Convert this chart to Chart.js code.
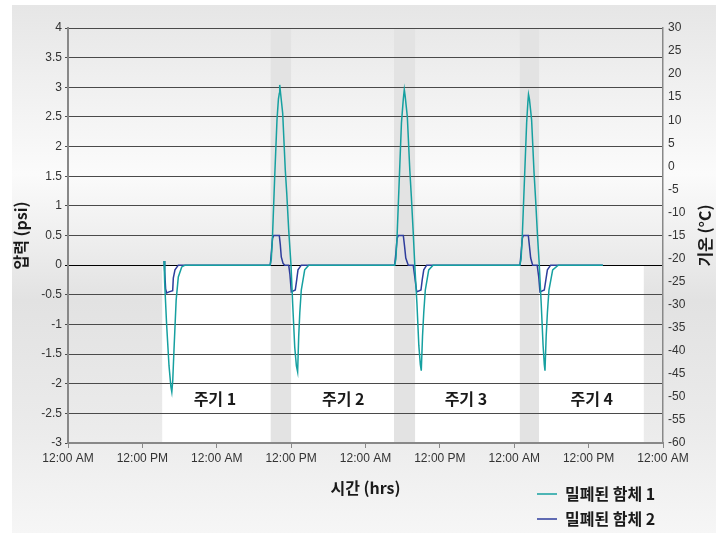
<!DOCTYPE html>
<html>
<head>
<meta charset="utf-8">
<script src="https://cdn.jsdelivr.net/npm/chart.js@4"></script>
<style>
  html, body { margin: 0; padding: 0; background: #fff; }
  #wrap { width: 728px; height: 537px; position: relative; }
</style>
</head>
<body>
<div id="wrap"><canvas id="pressureChart" width="728" height="537"></canvas></div>
<script>
// x tick labels (every 12 hours over 4 days)
const timeLabels = ["12:00 AM", "12:00 PM", "12:00 AM", "12:00 PM", "12:00 AM",
  "12:00 PM", "12:00 AM", "12:00 PM", "12:00 AM"];

// sealed enclosure 1 (hours, psi)
const hours1 = [15.5, 15.6, 15.9, 16.3, 16.6, 16.75, 16.9, 17.1, 17.3, 17.45, 17.8, 18.35, 18.9,
  32.6, 32.8, 33.0, 33.35, 33.72, 33.95, 34.1, 34.16, 34.3, 34.64, 35.06, 35.3, 35.61, 35.98,
  36.25, 36.58, 36.85, 37.05, 37.22, 37.4, 37.64, 38.19, 38.84,
  52.7, 52.9, 53.1, 53.45, 53.8, 54.1, 54.26, 54.4, 54.75, 55.15, 55.4, 55.7, 55.95,
  56.3, 56.6, 56.85, 57.0, 57.2, 57.4, 57.65, 58.2, 58.9,
  72.9, 73.1, 73.3, 73.65, 74.0, 74.2, 74.3, 74.45, 74.8, 75.2, 75.45, 75.75, 76.04,
  76.35, 76.65, 76.85, 76.96, 77.15, 77.35, 77.6, 78.2, 79.1, 86.3];
const psi1 = [0.07, -0.3, -0.98, -1.7, -2.05, -2.14, -1.95, -1.43, -0.95, -0.59, -0.2, -0.03, 0,
  0, 0.1, 0.5, 1.49, 2.45, 2.8, 2.9, 3.04, 2.9, 2.56, 1.6, 1.2, 0.59, 0,
  -0.65, -1.38, -1.7, -1.8, -1.21, -0.8, -0.42, -0.08, 0,
  0, 0.1, 0.5, 1.45, 2.4, 2.8, 2.96, 2.85, 2.5, 1.6, 1.15, 0.55, 0,
  -0.65, -1.35, -1.68, -1.78, -1.2, -0.8, -0.42, -0.08, 0,
  0, 0.1, 0.5, 1.45, 2.4, 2.75, 2.88, 2.8, 2.45, 1.55, 1.1, 0.5, 0,
  -0.65, -1.35, -1.68, -1.78, -1.2, -0.8, -0.42, -0.08, 0, 0];

// sealed enclosure 2 (hours, psi)
const hours2 = [15.5, 15.6, 15.75, 15.92, 16.3, 16.89, 16.99, 17.26, 17.8,
  32.64, 32.8, 33.0, 33.19, 34.09, 34.25, 34.41, 34.7, 34.96, 35.61, 35.8, 36.03, 36.67, 36.9, 37.11, 37.64,
  52.7, 52.9, 53.1, 53.29, 54.1, 54.3, 54.5, 54.9, 55.7, 55.95, 56.26, 56.95, 57.15, 57.4, 57.87,
  72.93, 73.1, 73.3, 73.46, 74.27, 74.45, 74.65, 74.97, 75.7, 75.95, 76.15, 76.85, 77.1, 77.35, 77.88, 86.3];
const psi2 = [0.07, -0.1, -0.4, -0.47, -0.45, -0.43, -0.22, -0.08, 0,
  0, 0.2, 0.45, 0.5, 0.5, 0.35, 0.14, 0.03, 0, 0, -0.15, -0.45, -0.42, -0.25, -0.08, 0,
  0, 0.2, 0.45, 0.5, 0.5, 0.32, 0.12, 0, 0, -0.2, -0.45, -0.42, -0.25, -0.08, 0,
  0, 0.2, 0.45, 0.5, 0.5, 0.32, 0.12, 0, 0, -0.2, -0.45, -0.42, -0.25, -0.08, 0, 0];

const seriesNames = ["밀폐된 함체 1", "밀폐된 함체 2"];
const seriesColors = ["#16a0a0", "#2e3d9c"];

// shaded transition bands and cycle areas (hours)
const bandStart = [32.7, 52.6, 72.9];
const bandEnd = [36.0, 56.0, 76.0];
const cycleStart = 15.2;
const cycleEnd = 92.9;
const cycleNames = ["주기 1", "주기 2", "주기 3", "주기 4"];
const cycleLabelHours = [23.7, 44.4, 64.2, 84.5];
const cycleLabelPsi = -2.26;

const KR = "'Noto Sans CJK KR', 'Noto Sans', sans-serif";
const TICK = "'Liberation Sans', Arial, sans-serif";

const decorPlugin = {
  id: "decor",
  beforeDraw(chart) {
    const ctx = chart.ctx;
    const { left, right, top, bottom } = chart.chartArea;
    const x = chart.scales.x, y = chart.scales.y;
    ctx.save();
    // panel background
    const g = ctx.createLinearGradient(0, 5, 0, 533);
    g.addColorStop(0, "#e6e6e6");
    g.addColorStop(0.32, "#fbfbfb");
    g.addColorStop(0.56, "#e2e2e2");
    g.addColorStop(0.8, "#ebebeb");
    g.addColorStop(1, "#f6f6f6");
    ctx.fillStyle = g;
    ctx.fillRect(12, 5, 704, 528);
    // white cycle area below zero
    const y0 = y.getPixelForValue(0);
    ctx.fillStyle = "#ffffff";
    ctx.fillRect(x.getPixelForValue(cycleStart), y0, x.getPixelForValue(cycleEnd) - x.getPixelForValue(cycleStart), bottom - y0);
    // grey bands
    ctx.fillStyle = "#e3e3e3";
    bandStart.forEach((s, i) => {
      const a = x.getPixelForValue(s), b = x.getPixelForValue(bandEnd[i]);
      ctx.fillRect(a, top, b - a, bottom - top);
    });
    ctx.restore();
  },
  afterDraw(chart) {
    const ctx = chart.ctx;
    const { top, bottom } = chart.chartArea;
    const x = chart.scales.x, y = chart.scales.y;
    ctx.save();
    // cycle labels
    ctx.fillStyle = "#1a1a1a";
    ctx.font = "bold 16px " + KR;
    ctx.textAlign = "center";
    ctx.textBaseline = "middle";
    cycleNames.forEach((n, i) => {
      ctx.fillText(n, x.getPixelForValue(cycleLabelHours[i]), y.getPixelForValue(cycleLabelPsi));
    });
    // right axis title, reading bottom to top
    ctx.save();
    ctx.translate(705, (top + bottom) / 2);
    ctx.rotate(-Math.PI / 2);
    ctx.fillText("기온 (°C)", 0, 0);
    ctx.restore();
    // legend
    ctx.textAlign = "left";
    ctx.font = "bold 16px " + KR;
    seriesNames.forEach((n, i) => {
      const ly = 494 + i * 25;
      ctx.strokeStyle = seriesColors[i];
      ctx.lineWidth = 1.5;
      ctx.beginPath();
      ctx.moveTo(537, ly);
      ctx.lineTo(557, ly);
      ctx.stroke();
      ctx.fillStyle = "#1a1a1a";
      ctx.fillText(n, 565, ly);
    });
    ctx.restore();
  }
};

new Chart(document.getElementById("pressureChart"), {
  type: "line",
  data: {
    datasets: [
      {
        label: seriesNames[0],
        data: hours1.map((h, i) => ({ x: h, y: psi1[i] })),
        borderColor: seriesColors[0],
        borderWidth: 1.5,
        pointRadius: 0,
        tension: 0,
        yAxisID: "y",
      },
      {
        label: seriesNames[1],
        data: hours2.map((h, i) => ({ x: h, y: psi2[i] })),
        borderColor: seriesColors[1],
        borderWidth: 1.5,
        pointRadius: 0,
        tension: 0,
        yAxisID: "y",
      },
    ],
  },
  options: {
    responsive: false,
    animation: false,
    layout: { padding: { top: 28, bottom: 0, left: 0, right: 0 } },
    plugins: { legend: { display: false }, tooltip: { enabled: false } },
    scales: {
      x: {
        type: "linear",
        min: 0,
        max: 96,
        afterBuildTicks(scale) {
          scale.ticks = timeLabels.map((t, i) => ({ value: i * 12 }));
        },
        afterFit(scale) { scale.height = 94; },
        grid: { drawOnChartArea: false, color: "#888", tickLength: 5 },
        border: { color: "#888", width: 2 },
        ticks: {
          font: { family: TICK, size: 12 },
          color: "#333",
          padding: 3,
          maxRotation: 0,
          autoSkip: false,
          callback: (v, i) => timeLabels[i],
        },
        title: {
          display: true,
          text: "시간 (hrs)",
          font: { family: KR, size: 16, weight: "bold" },
          color: "#1a1a1a",
          padding: { top: 0, bottom: 39 },
        },
      },
      y: {
        position: "left",
        min: -3,
        max: 4,
        afterFit(scale) { scale.width = 68; },
        grid: {
          color: (c) => (c.tick && c.tick.value === 0 ? "#000" : "#4a4a4a"),
          tickLength: 3,
        },
        border: { color: "#888", width: 2 },
        ticks: {
          stepSize: 0.5,
          font: { family: TICK, size: 12 },
          color: "#333",
          padding: 3,
          callback: (v) => String(v),
        },
        title: {
          display: true,
          text: "압력 (psi)",
          font: { family: KR, size: 16, weight: "bold" },
          color: "#1a1a1a",
          padding: { top: 11, bottom: 0 },
        },
      },
      y2: {
        position: "right",
        min: -60,
        max: 30,
        afterFit(scale) { scale.width = 65; },
        grid: { drawOnChartArea: false, drawTicks: false },
        border: { color: "#888", width: 1.5 },
        ticks: {
          stepSize: 5,
          font: { family: TICK, size: 12 },
          color: "#333",
          padding: 5,
        },
      },
    },
  },
  plugins: [decorPlugin],
});
</script>
</body>
</html>
